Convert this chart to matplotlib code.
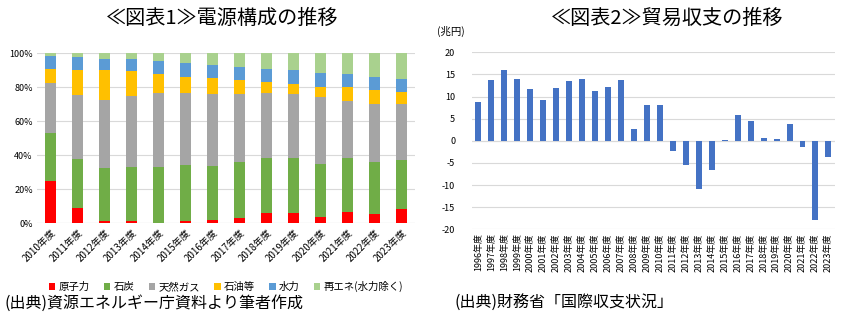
import matplotlib
matplotlib.use("Agg")
import matplotlib.pyplot as plt
import numpy as np

plt.rcParams['font.family'] = ['Noto Sans CJK JP', 'DejaVu Sans']

# 電源構成（%）
years_l = [f"{y}年度" for y in range(2010, 2024)]
nuclear = [25.0, 8.8, 1.4, 1.0, 0.0, 0.9, 1.5, 2.7, 5.9, 5.9, 3.5, 6.4, 5.5, 8.2]
coal = [27.7, 28.7, 30.8, 32.2, 33.2, 33.5, 32.2, 33.4, 32.2, 32.2, 31.1, 31.7, 30.6, 28.9]
gas = [29.7, 37.9, 40.1, 41.4, 43.4, 42.2, 42.2, 39.7, 38.5, 37.7, 39.6, 33.8, 33.8, 32.8]
oil = [8.2, 14.4, 17.9, 14.9, 11.3, 9.3, 9.5, 8.6, 6.6, 6.2, 5.9, 8.2, 8.6, 7.4]
hydro = [7.4, 7.9, 6.5, 6.8, 7.4, 8.2, 7.5, 7.4, 7.4, 7.8, 8.2, 7.4, 7.4, 7.5]
renew = [2.0, 2.3, 3.3, 3.7, 4.7, 5.9, 7.1, 8.2, 9.4, 10.2, 11.7, 12.5, 14.1, 15.2]
src_names = ['原子力', '石炭', '天然ガス', '石油等', '水力', '再エネ(水力除く)']
src_colors = ['#FF0000', '#70AD47', '#A5A5A5', '#FFC000', '#5B9BD5', '#A9D18E']

# 貿易収支（兆円）
years_r = [f"{y}年度" for y in range(1996, 2024)]
trade = [8.7, 13.7, 16.1, 13.9, 11.8, 9.3, 12.0, 13.6, 13.9, 11.2, 12.1, 13.7,
         2.6, 8.0, 8.1, -2.3, -5.4, -11.0, -6.7, 0.2, 5.8, 4.5, 0.6, 0.5,
         3.8, -1.5, -17.9, -3.6]

fig = plt.figure(figsize=(8.44, 3.24), dpi=100)
grid_c = '#D9D9D9'

# ---- 図表1 ----
ax1 = fig.add_axes([0.0438, 0.3117, 0.448, 0.5247])
x = np.arange(len(years_l))
bottom = np.zeros(len(years_l))
handles = []
for vals, name, c in zip([nuclear, coal, gas, oil, hydro, renew], src_names, src_colors):
    v = np.array(vals) / 100
    h = ax1.bar(x, v, 0.42, bottom=bottom, color=c, label=name, zorder=3)
    handles.append(h)
    bottom += v
ax1.set_xlim(-0.5, len(years_l) - 0.5)
ax1.set_ylim(0, 1)
ax1.set_yticks(np.arange(0, 1.01, 0.2))
ax1.set_yticklabels([f"{int(t*100)}%" for t in np.arange(0, 1.01, 0.2)], fontsize=6.5)
ax1.set_xticks(x)
ax1.set_xticklabels(years_l, rotation=45, ha='right', rotation_mode='anchor', fontsize=7)
ax1.yaxis.grid(True, color=grid_c, lw=0.8, zorder=0)
for s in ax1.spines.values():
    s.set_visible(False)
ax1.tick_params(length=0, pad=3)
ax1.axhline(0, color=grid_c, lw=0.8, zorder=1)
ax1.legend(handles=handles, loc='center', bbox_to_anchor=(0.5, -0.375), ncol=6,
           frameon=False, fontsize=7.5, handlelength=0.6, handleheight=0.6,
           handletextpad=0.3, columnspacing=1.4)

fig.text(0.263, 0.943, '≪図表1≫電源構成の推移', ha='center', va='center', fontsize=14.5)
fig.text(0.005, 0.065, '(出典)資源エネルギー庁資料より筆者作成', ha='left', va='center', fontsize=11.5)

# ---- 図表2 ----
ax2 = fig.add_axes([0.5592, 0.2923, 0.430, 0.5463])
xr = np.arange(len(years_r))
ax2.bar(xr, trade, 0.46, color='#4472C4', zorder=3)
ax2.set_xlim(-0.5, len(years_r) - 0.5)
ax2.set_ylim(-20, 20)
ax2.set_yticks(np.arange(-20, 21, 5))
ax2.set_yticklabels([str(t) for t in range(-20, 21, 5)], fontsize=6.5)
ax2.set_xticks(xr)
ax2.set_xticklabels(years_r, rotation=90, fontsize=6.5)
ax2.yaxis.grid(True, color=grid_c, lw=0.8, zorder=0)
for s in ax2.spines.values():
    s.set_visible(False)
ax2.tick_params(length=0, pad=3)
ax2.tick_params(axis='y', pad=12)
ax2.axhline(0, color=grid_c, lw=0.8, zorder=1)

fig.text(0.518, 0.902, '(兆円)', ha='left', va='center', fontsize=7.5)
fig.text(0.79, 0.943, '≪図表2≫貿易収支の推移', ha='center', va='center', fontsize=14.5)
fig.text(0.538, 0.065, '(出典)財務省「国際収支状況」', ha='left', va='center', fontsize=11.5)

fig.savefig('out.png', dpi=100, facecolor='white')
